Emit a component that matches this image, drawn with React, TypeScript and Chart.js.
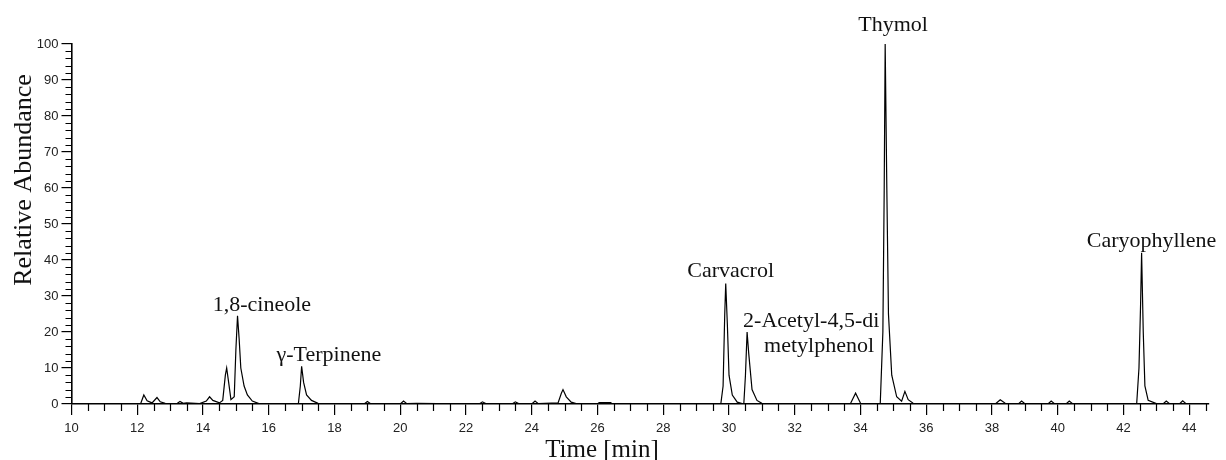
import { useEffect, useRef } from "react";
import { Chart, registerables } from "chart.js";

Chart.register(...registerables);

// Retention time (min) and relative abundance (%)
const retentionTime = [
  10.0, 12.1, 12.2, 12.3, 12.45, 12.6, 12.7, 12.85, 13.2, 13.3, 13.4, 13.5, 13.9,
  14.1, 14.2, 14.3, 14.5, 14.6, 14.68, 14.72, 14.78, 14.85, 14.95, 15.0, 15.05, 15.1,
  15.15, 15.25, 15.35, 15.5, 15.7, 16.9, 16.96, 17.0, 17.06, 17.15, 17.3, 17.5,
  18.9, 19.0, 19.1, 20.0, 20.1, 20.2, 20.5, 22.4, 22.5, 22.6, 23.4, 23.5, 23.6,
  24.0, 24.1, 24.2, 24.8, 24.9, 24.95, 25.05, 25.2, 25.4, 26.0, 26.05, 26.4, 26.45,
  29.75, 29.82, 29.87, 29.9, 29.95, 30.0, 30.1, 30.25, 30.45, 30.5, 30.55, 30.6,
  30.7, 30.85, 31.0, 33.5, 33.7, 33.85, 34.0, 34.6, 34.68, 34.72, 34.75, 34.8,
  34.85, 34.95, 35.1, 35.25, 35.35, 35.45, 35.6, 35.8, 38.1, 38.25, 38.4, 38.8,
  38.9, 39.0, 39.7, 39.8, 39.9, 40.25, 40.35, 40.45, 42.4, 42.47, 42.52, 42.55,
  42.6, 42.65, 42.75, 43.0, 43.2, 43.3, 43.4, 43.7, 43.8, 43.9, 44.6,
];
const relativeAbundance = [
  0, 0, 2.5, 0.9, 0.3, 1.8, 0.6, 0.2, 0.1, 0.7, 0.2, 0.3, 0.1,
  0.8, 2.0, 1.0, 0.3, 1.0, 8, 10, 6, 1.2, 2, 15, 24.5, 18,
  10, 5, 2.5, 0.8, 0.1, 0, 5, 10.5, 6, 2.5, 1, 0.2,
  0, 0.7, 0.1, 0, 0.8, 0.1, 0.2, 0, 0.6, 0.1, 0, 0.6, 0.1,
  0, 0.8, 0.1, 0.3, 3, 4, 2, 0.5, 0, 0, 0.4, 0.4, 0,
  0, 5, 25, 33.5, 22, 8, 2.5, 0.5, 0, 8, 20, 14,
  4, 1, 0.2, 0.1, 0.2, 3, 0.2, 0, 20, 59, 100, 60,
  25, 8, 2, 0.8, 3.5, 1.2, 0.2, 0.1, 0, 1.2, 0.2, 0,
  0.8, 0.1, 0, 0.8, 0.1, 0, 0.8, 0.1, 0, 10, 28, 42,
  20, 5, 1, 0.1, 0, 0.8, 0.1, 0, 0.9, 0.1, 0,
];

// Axis ranges and tick steps
const timeRange = [10, 44.6];
const abundanceRange = [0, 100];
const timeMajorStep = 2;
const timeMinorStep = 0.5;
const abundanceMajorStep = 10;
const abundanceMinorStep = 2;

// Peak annotations (anchored in data coordinates: time, abundance)
const peakNames = [
  "1,8-cineole",
  "γ-Terpinene",
  "Carvacrol",
  "2-Acetyl-4,5-di",
  "metylphenol",
  "Thymol",
  "Caryophyllene",
];
const peakLabelTimes = [15.79, 17.83, 30.05, 32.5, 32.74, 34.99, 42.85];
const peakLabelLevels = [25.8, 11.9, 35.3, 21.4, 14.4, 103.6, 43.6];

const xTitle = "Time [min]";
const yTitle = "Relative Abundance";

const SERIF = '"Liberation Serif", "Times New Roman", serif';
const SANS = '"Liberation Sans", Arial, sans-serif';

export default function App() {
  const canvasRef = useRef<HTMLCanvasElement | null>(null);

  useEffect(() => {
    const canvas = canvasRef.current;
    if (!canvas) return;

    const decorations = {
      id: "decorations",
      afterDraw(chart: any) {
        const { ctx, scales, chartArea } = chart;
        const xs = scales.x;
        const ys = scales.y;
        ctx.save();
        // minor ticks
        ctx.strokeStyle = "#000";
        ctx.lineWidth = 1.2;
        ctx.beginPath();
        for (let v = abundanceRange[0]; v <= abundanceRange[1] + 1e-9; v += abundanceMinorStep) {
          if (Math.abs(v / abundanceMajorStep - Math.round(v / abundanceMajorStep)) < 1e-6) continue;
          const py = Math.round(ys.getPixelForValue(v)) + 0.5;
          ctx.moveTo(chartArea.left - 6, py);
          ctx.lineTo(chartArea.left, py);
        }
        for (let v = timeRange[0]; v <= timeRange[1] + 1e-9; v += timeMinorStep) {
          if (Math.abs(v / timeMajorStep - Math.round(v / timeMajorStep)) < 1e-6) continue;
          const px = Math.round(xs.getPixelForValue(v)) + 0.5;
          ctx.moveTo(px, chartArea.bottom);
          ctx.lineTo(px, chartArea.bottom + 7);
        }
        ctx.stroke();

        // peak labels
        ctx.fillStyle = "#111";
        ctx.font = `22px ${SERIF}`;
        ctx.textAlign = "center";
        ctx.textBaseline = "alphabetic";
        peakNames.forEach((name, i) => {
          ctx.fillText(
            name,
            xs.getPixelForValue(peakLabelTimes[i]),
            ys.getPixelForValue(peakLabelLevels[i])
          );
        });

        // axis titles
        ctx.font = `25px ${SERIF}`;
        ctx.fillText(xTitle, 602, 457);
        ctx.save();
        ctx.translate(24, 180);
        ctx.rotate(-Math.PI / 2);
        ctx.textBaseline = "middle";
        ctx.font = `26px ${SERIF}`;
        ctx.fillText(yTitle, 0, 0);
        ctx.restore();
        ctx.restore();
      },
    };

    const chart = new Chart(canvas, {
      type: "line",
      data: {
        datasets: [
          {
            data: retentionTime.map((t, i) => ({ x: t, y: relativeAbundance[i] })),
            borderColor: "#000",
            borderWidth: 1.2,
            pointRadius: 0,
            tension: 0,
            fill: false,
          },
        ],
      },
      options: {
        responsive: false,
        animation: false,
        events: [],
        layout: { padding: { top: 44, right: 17, left: 0, bottom: 0 } },
        plugins: { legend: { display: false }, tooltip: { enabled: false } },
        scales: {
          x: {
            type: "linear",
            min: timeRange[0],
            max: timeRange[1],
            afterFit: (s: any) => {
              s.height = 56;
            },
            border: { display: true, color: "#000", width: 1.6 },
            grid: { drawOnChartArea: false, drawTicks: true, tickLength: 11, color: "#000", lineWidth: 1.2 },
            ticks: {
              stepSize: timeMajorStep,
              includeBounds: false,
              autoSkip: false,
              maxRotation: 0,
              padding: 6,
              color: "#222",
              font: { family: SANS, size: 13 },
            },
          },
          y: {
            type: "linear",
            min: abundanceRange[0],
            max: abundanceRange[1],
            afterFit: (s: any) => {
              s.width = 71.5;
            },
            border: { display: true, color: "#000", width: 1.6 },
            grid: { drawOnChartArea: false, drawTicks: true, tickLength: 10, color: "#000", lineWidth: 1.2 },
            ticks: {
              stepSize: abundanceMajorStep,
              padding: 3,
              color: "#222",
              font: { family: SANS, size: 13 },
            },
          },
        },
      },
      plugins: [decorations],
    });

    return () => chart.destroy();
  }, []);

  return (
    <div style={{ position: "absolute", left: 0, top: 0, width: 1226, height: 460, background: "#fff" }}>
      <canvas ref={canvasRef} width={1226} height={460} />
    </div>
  );
}
